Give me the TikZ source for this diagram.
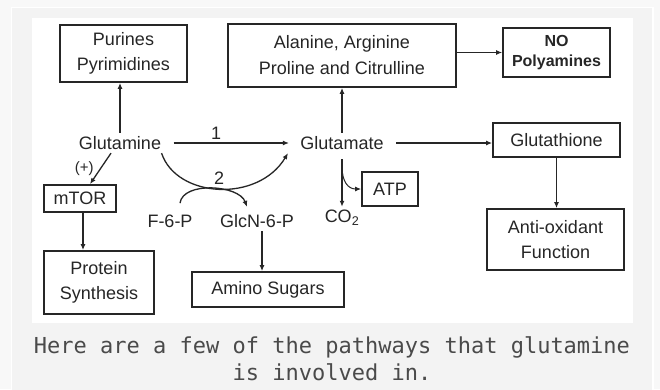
\documentclass[tikz,border=0pt]{standalone}
\usepackage{fontspec}
\setmainfont{Liberation Sans}
\newfontfamily\capfont{DejaVu Sans Mono}
\usetikzlibrary{arrows.meta}

\definecolor{pagebg}{HTML}{F8F8F8}
\definecolor{cardbg}{HTML}{F3F3F3}
\definecolor{ink}{HTML}{262626}
\definecolor{captext}{HTML}{4A4A4A}

\tikzset{
  box/.style={draw=ink, line width=1.8pt, text=ink, align=center, inner sep=0pt,
    font=\fontsize{18}{25}\selectfont},
  metab/.style={text=ink, font=\fontsize{18}{25}\selectfont},
  flow/.style={draw=ink, line width=1.6pt, -{Latex[length=6pt,width=5pt]}},
  thinflow/.style={flow, line width=1pt},
  curveflow/.style={flow, line width=1.3pt},
}

\begin{document}
\begin{tikzpicture}[x=1pt,y=-1pt]
  \useasboundingbox (0,0) rectangle (660,389);
  \fill[pagebg] (0,0) rectangle (660,389);
  \filldraw[fill=cardbg, draw=white, line width=1.5pt] (11.5,7.5) rectangle (653,395);
  \fill[white] (32,18) rectangle (633,323);

  \node[box, minimum width=127pt, minimum height=57pt] (purines) at (123.5,53.5) {Purines\\Pyrimidines};
  \node[box, minimum width=228pt, minimum height=63pt, font=\fontsize{18}{26}\selectfont] (arginine) at (342,55.5) {Alanine, Arginine\\Proline and Citrulline};
  \node[box, minimum width=107pt, minimum height=49pt, font=\bfseries\fontsize{16}{20}\selectfont] (nopoly) at (556.5,52.5) {NO\\Polyamines};

  \node[metab] (gln) at (120,143) {Glutamine};
  \node[metab] (glu) at (342,143) {Glutamate};
  \node[box, minimum width=127pt, minimum height=34pt] (gsh) at (556.5,140) {Glutathione};
  \node[box, minimum width=137pt, minimum height=61pt] (antiox) at (555.5,239.5) {Anti-oxidant\\Function};

  \node[box, minimum width=56pt, minimum height=34pt] (atp) at (390,189) {ATP};
  \node[metab] (co2) at (342,218) {CO\textsubscript{2}};

  \node[box, minimum width=72pt, minimum height=27pt] (mtor) at (80,198.5) {mTOR};
  \node[box, minimum width=110pt, minimum height=63pt] (protein) at (99,282.5) {Protein\\Synthesis};

  \node[metab] (f6p) at (170,221) {F-6-P};
  \node[metab] (glcn) at (257,221) {GlcN-6-P};
  \node[box, minimum width=152pt, minimum height=35pt] (amino) at (268,289.5) {Amino Sugars};

  \draw[flow] (gln.north) -- (gln.north |- purines.south);
  \draw[flow] (glu.north) -- (arginine.south);
  \draw[thinflow] (arginine.east |- nopoly.west) -- (nopoly.west);

  \draw[flow, line width=2.2pt, shorten <=9pt, shorten >=8pt] (gln.east) -- (glu.west)
    node[metab, pos=0.39, above=-1pt] (lbl1) {1};
  \draw[flow, line width=2.2pt, shorten <=9pt] (glu.east) -- (glu.east -| gsh.west);
  \draw[flow] (gsh.south) -- (gsh.south |- antiox.north);

  \draw[flow, shorten <=6pt] (glu.south) -- (co2.north) coordinate[pos=0.25] (fork);
  \draw[thinflow] (fork) .. controls +(0,15) and +(-13,0) .. (atp.west);

  \draw[flow, line width=1.3pt] ([xshift=-9pt]gln.south) -- ([xshift=10pt]mtor.north)
    node[metab, midway, left=3pt, font=\fontsize{15}{18}\selectfont] (plus) {(+)};
  \draw[flow] ([xshift=3pt]mtor.south) -- ([xshift=3pt]mtor.south |- protein.north);

  \draw[curveflow] ([xshift=-3pt]gln.south east) .. controls +(15,45) and +(-30,50) .. ([xshift=-9pt]glu.south west)
    node[metab, pos=0.5, above=0pt] (lbl2) {2};
  \draw[curveflow] ([shift={(10,-8)}]f6p.north) .. controls +(3,-22) and +(-8,-22) .. ([shift={(-10,-4)}]glcn.north);
  \draw[flow] ([xshift=5pt]glcn.south) -- ([xshift=5pt]glcn.south |- amino.north);

  \node[font=\capfont\fontsize{22}{27}\selectfont, text=captext, align=center, anchor=north, inner sep=0pt]
    (caption) at (332,336) {Here are a few of the pathways that glutamine\\is involved in.};
\end{tikzpicture}
\end{document}
